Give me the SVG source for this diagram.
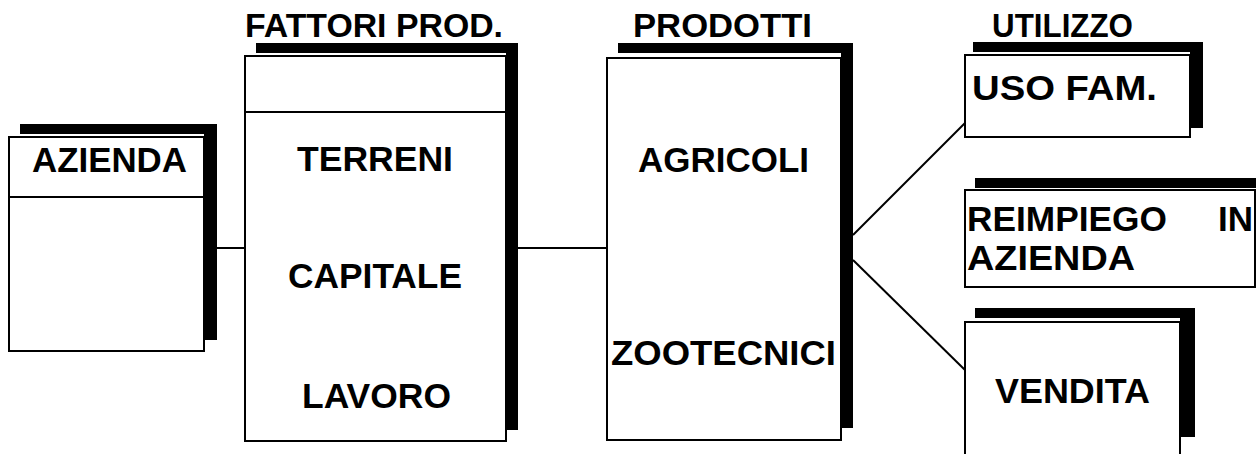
<svg xmlns="http://www.w3.org/2000/svg" width="1256" height="454" viewBox="0 0 1256 454">
  <style>
    .box { fill: #ffffff; stroke: #000000; stroke-width: 2; }
    .shadow { fill: #000000; stroke: none; }
    .div { stroke: #000000; stroke-width: 2; fill: none; }
    .conn { stroke: #000000; stroke-width: 2; fill: none; }
    .t { font-family: "Liberation Sans", Arial, Helvetica, sans-serif; font-weight: bold; font-size: 35px; fill: #000000; }
    .h { font-family: "Liberation Sans", Arial, Helvetica, sans-serif; font-weight: bold; font-size: 33px; fill: #000000; }
  </style>
  <rect width="1256" height="454" fill="#ffffff"/>

  <g id="connectors">
    <line class="conn" x1="217" y1="248" x2="245" y2="248"/>
    <line class="conn" x1="518" y1="248" x2="607" y2="248"/>
    <line class="conn" x1="853" y1="235" x2="965" y2="123"/>
    <line class="conn" x1="853" y1="260" x2="965" y2="370"/>
  </g>

  <g id="azienda">
    <path class="shadow" d="M20,124 H217 V340 H204 V134 H20 Z"/>
    <rect class="box" x="9" y="137" width="195" height="214"/>
    <line class="div" x1="9" y1="197" x2="204" y2="197"/>
    <text class="t" x="32" y="172" textLength="155" lengthAdjust="spacingAndGlyphs">AZIENDA</text>
  </g>

  <g id="fattori">
    <text class="h" x="245" y="37" textLength="258" lengthAdjust="spacingAndGlyphs">FATTORI PROD.</text>
    <path class="shadow" d="M256,43 H518 V430 H506 V53 H256 Z"/>
    <rect class="box" x="245" y="56" width="261" height="385"/>
    <line class="div" x1="245" y1="112" x2="506" y2="112"/>
    <text class="t" x="297" y="171" textLength="156" lengthAdjust="spacingAndGlyphs">TERRENI</text>
    <text class="t" x="288" y="288" textLength="174" lengthAdjust="spacingAndGlyphs">CAPITALE</text>
    <text class="t" x="302" y="408" textLength="149" lengthAdjust="spacingAndGlyphs">LAVORO</text>
  </g>

  <g id="prodotti">
    <text class="h" x="633" y="37" textLength="179" lengthAdjust="spacingAndGlyphs">PRODOTTI</text>
    <path class="shadow" d="M618,43 H853 V428 H841 V53 H618 Z"/>
    <rect class="box" x="607" y="58" width="234" height="382"/>
    <text class="t" x="638" y="172" textLength="171" lengthAdjust="spacingAndGlyphs">AGRICOLI</text>
    <text class="t" x="611" y="365" textLength="225" lengthAdjust="spacingAndGlyphs">ZOOTECNICI</text>
  </g>

  <g id="uso-fam">
    <text class="h" x="992" y="37" textLength="141" lengthAdjust="spacingAndGlyphs">UTILIZZO</text>
    <path class="shadow" d="M973,42 H1203 V128 H1190 V52 H973 Z"/>
    <rect class="box" x="965" y="55" width="225" height="82"/>
    <text class="t" x="972" y="100" textLength="185" lengthAdjust="spacingAndGlyphs">USO FAM.</text>
  </g>

  <g id="reimpiego">
    <path class="shadow" d="M975,178 H1256 V188 H975 Z"/>
    <rect class="box" x="965" y="190" width="290" height="97"/>
    <text class="t" y="231"><tspan x="967" textLength="200" lengthAdjust="spacingAndGlyphs">REIMPIEGO</tspan><tspan x="1218">IN</tspan></text>
    <text class="t" x="967" y="270" textLength="168" lengthAdjust="spacingAndGlyphs">AZIENDA</text>
  </g>

  <g id="vendita">
    <path class="shadow" d="M975,308 H1195 V437 H1180 V318 H975 Z"/>
    <rect class="box" x="965" y="322" width="215" height="140"/>
    <text class="t" x="995" y="403" textLength="155" lengthAdjust="spacingAndGlyphs">VENDITA</text>
  </g>
</svg>
